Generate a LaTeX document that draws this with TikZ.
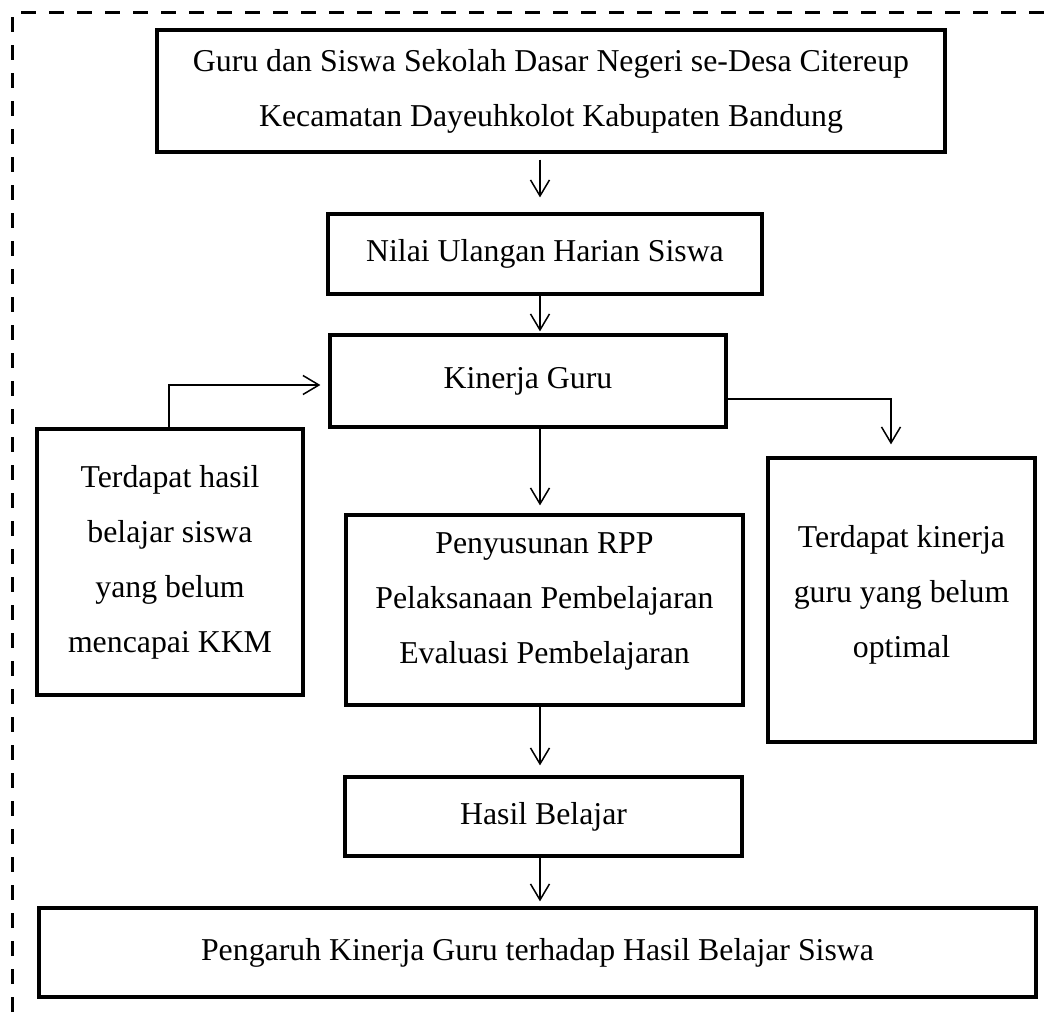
\documentclass[tikz,border=0pt]{standalone}
\usepackage{fontspec}
\setmainfont{Liberation Serif}
\usetikzlibrary{arrows.meta}

\begin{document}
\begin{tikzpicture}[x=0.5pt, y=-0.5pt,
  box/.style={draw, line width=1.6pt, inner sep=0pt, align=center,
    font=\fontsize{15.9}{27.5}\selectfont},
  arr/.style={-{Straight Barb[length=8pt, width=9.5pt]}, line width=0.75pt}]
  \useasboundingbox (0,0) rectangle (1057,1016);
  \draw[line width=1.5pt, dash pattern=on 7.5pt off 6.5pt] (12,1040) -- (12,13) -- (1080,13);

  \node[box, minimum width=394pt, minimum height=61pt] (guru) at (551,91)
    {Guru dan Siswa Sekolah Dasar Negeri se-Desa Citereup\\Kecamatan Dayeuhkolot Kabupaten Bandung};
  \node[box, minimum width=217pt, minimum height=40pt] (nilai) at (545,254) {Nilai Ulangan Harian Siswa};
  \node[box, minimum width=198pt, minimum height=46pt] (kinerja) at (528,381) {Kinerja Guru};
  \node[box, minimum width=133pt, minimum height=133pt] (kkm) at (170,562)
    {Terdapat hasil\\belajar siswa\\yang belum\\mencapai KKM};
  \node[box, minimum width=198.5pt, minimum height=95pt, text depth=12pt] (rpp) at (544.5,610)
    {Penyusunan RPP\\Pelaksanaan Pembelajaran\\Evaluasi Pembelajaran};
  \node[box, minimum width=133.5pt, minimum height=142pt, text depth=8.5pt] (optimal) at (901.5,600)
    {Terdapat kinerja\\guru yang belum\\optimal};
  \node[box, minimum width=198.5pt, minimum height=39.5pt] (hasil) at (543.5,816.5) {Hasil Belajar};
  \node[box, minimum width=498.5pt, minimum height=44.5pt] (pengaruh) at (537.5,952.5)
    {Pengaruh Kinerja Guru terhadap Hasil Belajar Siswa};

  \coordinate (kol) at (540,0);
  \coordinate (kiri) at (169,385);
  \coordinate (kanan) at (891,399);

  \draw[arr, shorten <=3pt, shorten >=7.5pt] (guru.south -| kol) -- (nilai.north -| kol);
  \draw[arr, shorten >=1pt] (nilai.south -| kol) -- (kinerja.north -| kol);
  \draw[arr, shorten >=4pt] (kinerja.south -| kol) -- (rpp.north -| kol);
  \draw[arr, shorten >=5pt] (rpp.south -| kol) -- (hasil.north -| kol);
  \draw[arr, shorten >=2.5pt] (hasil.south -| kol) -- (pengaruh.north -| kol);
  \draw[arr, shorten >=4pt] (kkm.north -| kiri) |- (kinerja.west |- kiri);
  \draw[arr, shorten >=6pt] (kinerja.east |- kanan) -| (optimal.north -| kanan);
\end{tikzpicture}
\end{document}
